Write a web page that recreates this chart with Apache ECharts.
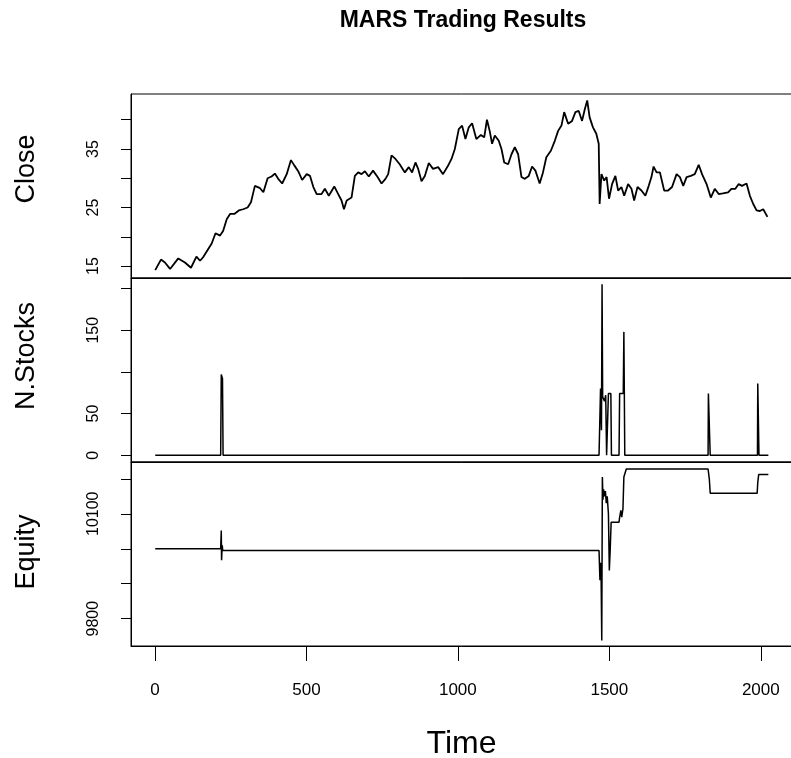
<!DOCTYPE html>
<html>
<head>
<meta charset="utf-8">
<title>MARS Trading Results</title>
<script src="https://cdn.jsdelivr.net/npm/echarts@6/dist/echarts.min.js"></script>
<style>
  html, body { margin: 0; padding: 0; background: #fff; }
  #main { width: 791px; height: 758px; }
</style>
</head>
<body>
<div id="main"></div>
<script>
// ************************ data ************************
var closeTime = [1, 20, 33, 50, 77, 99, 119, 137, 149, 159, 176, 187, 200, 215, 225, 237, 248, 262, 277, 291,
  306, 317, 330, 347, 358, 372, 385, 396, 407, 420, 435, 449, 460, 473, 486, 501, 512, 523, 534, 550,
  561, 574, 592, 605, 616, 624, 633, 649, 660, 671, 682, 693, 706, 720, 735, 748, 761, 770, 781, 794,
  808, 825, 838, 849, 860, 869, 880, 891, 904, 918, 935, 951, 966, 979, 990, 1003, 1014, 1025, 1036, 1047,
  1061, 1076, 1087, 1096, 1105, 1113, 1122, 1135, 1144, 1153, 1166, 1177, 1188, 1199, 1210, 1221, 1234, 1245, 1256, 1270,
  1281, 1292, 1307, 1320, 1331, 1342, 1351, 1364, 1377, 1388, 1399, 1410, 1419, 1427, 1435, 1446, 1457, 1465, 1468, 1474,
  1483, 1491, 1499, 1509, 1520, 1529, 1540, 1549, 1562, 1573, 1582, 1593, 1606, 1619, 1630, 1639, 1646, 1656, 1667, 1681,
  1694, 1707, 1722, 1733, 1744, 1755, 1769, 1782, 1795, 1806, 1821, 1835, 1848, 1861, 1875, 1892, 1903, 1916, 1927, 1938,
  1953, 1964, 1975, 1986, 1997, 2008, 2022];
var closeValue = [14.3, 16.1, 15.6, 14.5, 16.3, 15.6, 14.7, 16.6, 15.9, 16.5, 17.9, 18.8, 20.6, 20.2, 21.0, 23.0, 23.9, 23.9, 24.5, 24.7,
  25.0, 25.9, 28.7, 28.3, 27.6, 30.0, 30.3, 30.8, 29.9, 29.1, 30.7, 33.1, 32.2, 31.2, 29.7, 30.7, 30.4, 28.5, 27.3, 27.3,
  28.2, 27.0, 28.6, 27.3, 26.2, 24.7, 26.2, 26.7, 30.4, 31.0, 30.7, 31.2, 30.3, 31.3, 30.2, 29.1, 29.9, 30.7, 33.9, 33.3,
  32.4, 31.0, 31.9, 31.0, 32.7, 31.6, 29.5, 30.4, 32.6, 31.6, 31.9, 30.7, 32.0, 33.3, 35.0, 38.4, 39.0, 36.7, 38.7, 39.4,
  36.7, 37.4, 37.0, 40.0, 38.1, 35.9, 37.3, 36.4, 35.0, 32.7, 32.4, 34.1, 35.3, 34.1, 30.2, 29.9, 30.4, 32.0, 31.3, 29.1,
  31.0, 33.6, 34.7, 36.4, 38.1, 39.0, 41.3, 39.3, 39.8, 41.3, 41.5, 39.8, 41.8, 43.3, 40.4, 38.7, 37.6, 35.9, 25.6, 30.7,
  29.6, 30.2, 26.5, 29.0, 30.4, 27.9, 28.5, 27.0, 29.0, 28.2, 26.2, 28.5, 27.9, 27.0, 28.7, 30.2, 32.0, 31.0, 31.0, 27.9,
  27.9, 28.5, 30.7, 30.2, 28.7, 30.2, 30.4, 30.7, 32.3, 30.7, 29.0, 26.7, 28.2, 27.3, 27.4, 27.6, 28.2, 28.2, 29.0, 28.7,
  29.1, 27.0, 25.6, 24.5, 24.4, 24.7, 23.4];

var stocksTime = [1, 217, 219, 223, 225, 1466, 1469, 1471, 1474, 1476, 1478, 1484, 1488, 1491, 1494, 1497, 1505, 1507,
  1532, 1534, 1546, 1548, 1551, 1826, 1827, 1832, 1833, 1989, 1990, 1993, 1994, 2025];
var stocksValue = [0, 0, 97, 92, 0, 0, 0, 80, 30, 205, 70, 65, 72, 0, 0, 74, 74, 0,
  0, 74, 74, 148, 0, 0, 74, 74, 0, 0, 86, 86, 0, 0];

var equityTime = [1, 217, 219, 220, 222, 224, 1466, 1469, 1471, 1473, 1475, 1477, 1479, 1481, 1484, 1487, 1490, 1493,
  1497, 1500, 1503, 1506, 1532, 1534, 1538, 1541, 1545, 1548, 1556, 1826, 1830, 1833, 1988, 1990, 1993, 2025];
var equityValue = [10000, 10000, 10052, 9967, 10010, 9995, 9995, 9910, 9960, 9910, 9738, 10205, 10140, 10170, 10150, 10165, 10130, 10150,
  10100, 9938, 10000, 10076, 10076, 10090, 10110, 10090, 10115, 10205, 10228, 10228, 10200, 10159, 10159, 10190, 10212, 10212];

// tick marks and the labels R kept
var timeTicks = [0, 500, 1000, 1500, 2000];
var closeTicks = [15, 20, 25, 30, 35, 40];
var closeLabels = [15, 25, 35];
var stocksTicks = [0, 50, 100, 150, 200];
var stocksLabels = [0, 50, 150];
var equityTicks = [9800, 9900, 10000, 10100, 10200];
var equityLabels = [9800, 10100];
var panelNames = ['Close', 'N.Stocks', 'Equity'];

function pairs(xs, ys) {
  return xs.map(function (x, i) { return [x, ys[i]]; });
}

function plain(v) {
  return String(v);
}

var font = '"Liberation Sans", Arial, sans-serif';

function xAxisFor(idx, showLabels) {
  return {
    type: 'value',
    gridIndex: idx,
    min: -79,
    max: 2103,
    name: showLabels ? 'Time' : '',
    nameLocation: 'middle',
    nameGap: 82,
    nameTextStyle: { color: '#000', fontSize: 32, fontFamily: font },
    axisLine: { show: true, onZero: false, lineStyle: { color: '#000', width: 1 } },
    axisTick: { show: showLabels, length: 15, customValues: timeTicks, lineStyle: { color: '#000', width: 1 } },
    axisLabel: { show: showLabels, customValues: timeTicks, formatter: plain, margin: 36, color: '#000', fontSize: 17, fontFamily: font },
    splitLine: { show: false }
  };
}

function yAxisFor(idx, lo, hi, ticks, labels) {
  return {
    type: 'value',
    gridIndex: idx,
    min: lo,
    max: hi,
    axisLine: { show: true, onZero: false, lineStyle: { color: '#000', width: 1 } },
    axisTick: { show: true, length: 10, customValues: ticks, lineStyle: { color: '#000', width: 1 } },
    axisLabel: { show: true, rotate: 90, customValues: labels, formatter: plain, margin: 29, color: '#000', fontSize: 16, fontFamily: font },
    splitLine: { show: false }
  };
}

function lineSeries(idx, name, pts, w) {
  return {
    name: name,
    type: 'line',
    xAxisIndex: idx,
    yAxisIndex: idx,
    data: pts,
    showSymbol: false,
    symbol: 'none',
    lineStyle: { color: '#000', width: w },
    animation: false
  };
}

// rotated panel titles on the left, placed where R put them
var nameY = [169, 356, 552];
var nameText = panelNames.map(function (n, i) {
  return {
    type: 'text',
    x: 27,
    y: nameY[i],
    rotation: Math.PI / 2,
    style: {
      text: n,
      textAlign: 'center',
      textVerticalAlign: 'middle',
      font: '27px ' + font,
      fill: '#000'
    }
  };
});

var myChart = echarts.init(document.getElementById('main'), null, { renderer: 'canvas' });

var gridBox = { left: 131, width: 661, height: 184, show: true, borderColor: '#000', borderWidth: 1, outerBoundsMode: 'none' };

var option = {
  backgroundColor: '#fff',
  animation: false,
  graphic: [{
    type: 'text',
    x: 463,
    y: 21,
    style: {
      text: 'MARS Trading Results',
      textAlign: 'center',
      textVerticalAlign: 'middle',
      font: 'bold 23px ' + font,
      fill: '#000'
    }
  }].concat(nameText),
  grid: [
    Object.assign({ top: 94 }, gridBox),
    Object.assign({ top: 278 }, gridBox),
    Object.assign({ top: 462 }, gridBox)
  ],
  xAxis: [xAxisFor(0, false), xAxisFor(1, false), xAxisFor(2, true)],
  yAxis: [
    yAxisFor(0, 12.95, 44.4, closeTicks, closeLabels),
    yAxisFor(1, -8, 212.6, stocksTicks, stocksLabels),
    yAxisFor(2, 9722, 10248, equityTicks, equityLabels)
  ],
  series: [
    lineSeries(0, 'Close', pairs(closeTime, closeValue), 1.8),
    lineSeries(1, 'N.Stocks', pairs(stocksTime, stocksValue), 1.5),
    lineSeries(2, 'Equity', pairs(equityTime, equityValue), 1.5)
  ]
};

myChart.setOption(option);
</script>
</body>
</html>
